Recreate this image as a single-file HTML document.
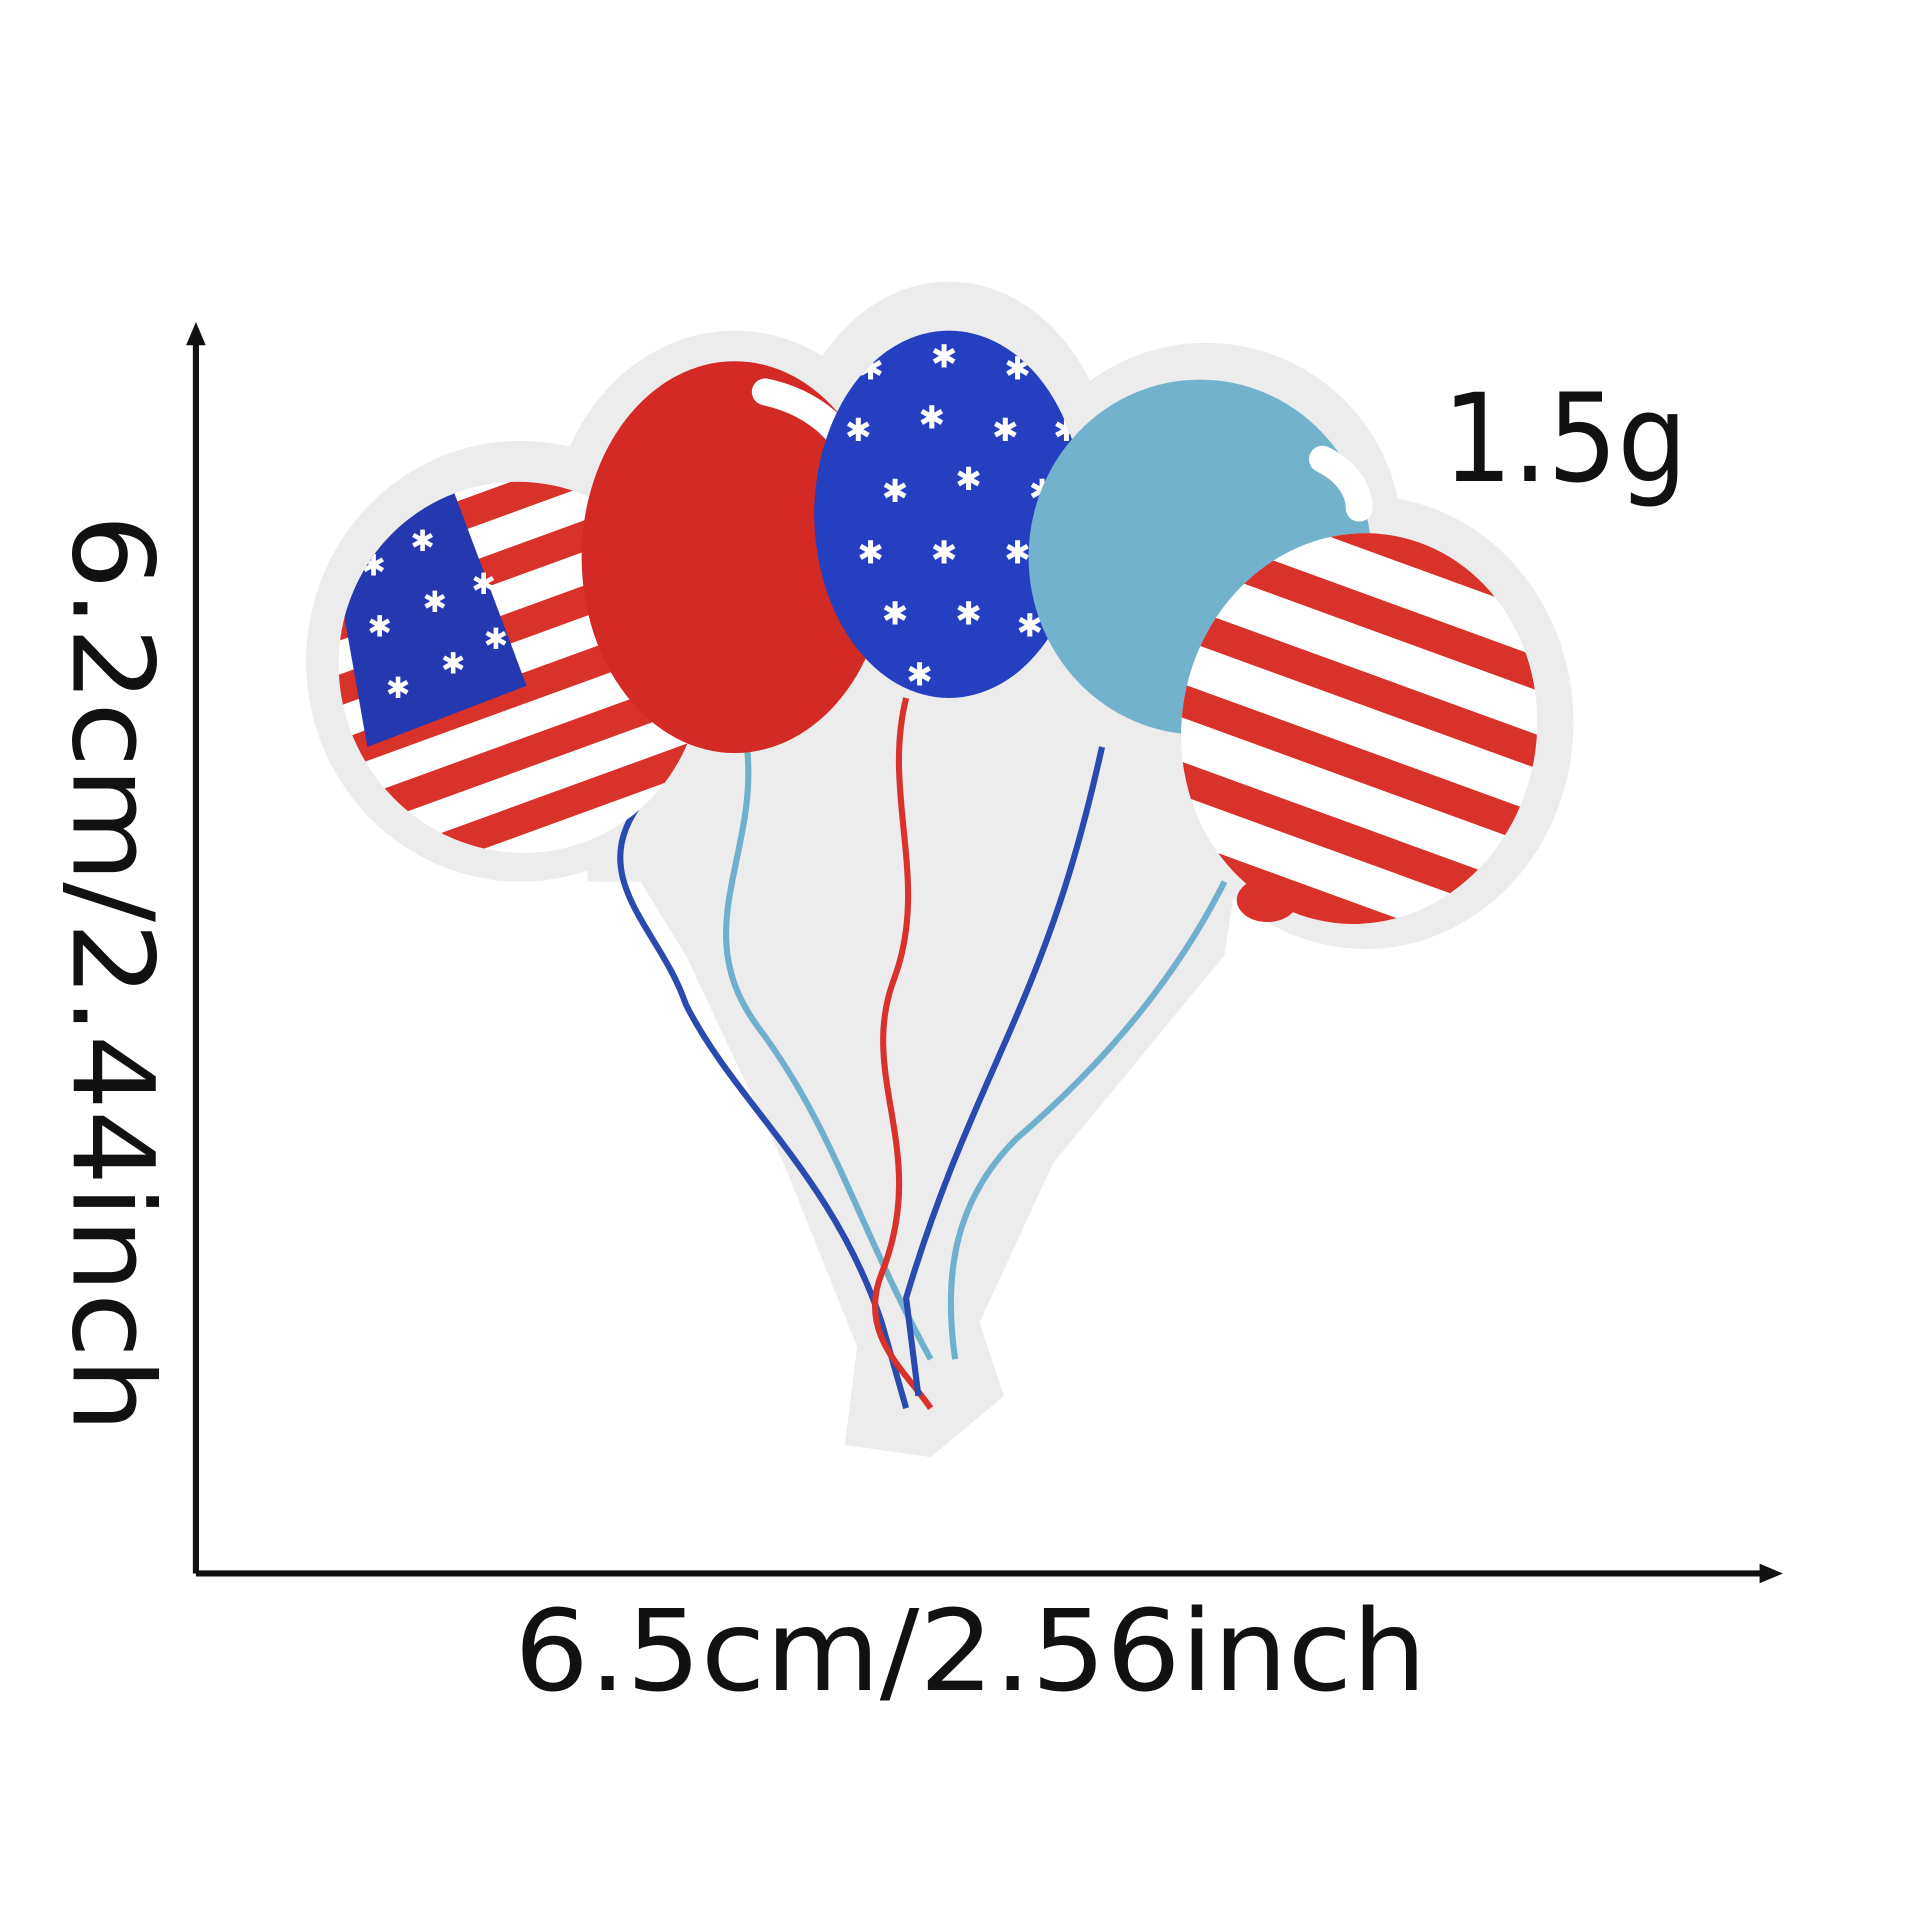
<!DOCTYPE html>
<html><head><meta charset="utf-8">
<style>
html,body{margin:0;padding:0;background:#fff;width:1920px;height:1920px;overflow:hidden}
svg{display:block}
.lbl{font-family:"DejaVu Sans","Liberation Sans",sans-serif;fill:#111}
</style></head>
<body>
<svg width="1920" height="1920" viewBox="0 0 1568 1568" xmlns="http://www.w3.org/2000/svg">
<defs>
  <clipPath id="c1"><ellipse cx="425" cy="545" rx="148" ry="152" transform="rotate(-20 425 545)"/></clipPath>
  <clipPath id="c5"><ellipse cx="1110" cy="595" rx="145" ry="160" transform="rotate(10 1110 595)"/></clipPath>
  <clipPath id="c3"><ellipse cx="775" cy="420" rx="110" ry="150"/></clipPath>
</defs>
<rect width="1568" height="1568" fill="#fff"/>

<g fill="#ececec">
  <ellipse cx="425" cy="540" rx="175" ry="180"/>
  <ellipse cx="600" cy="440" rx="150" ry="170"/>
  <ellipse cx="775" cy="400" rx="135" ry="170"/>
  <ellipse cx="985" cy="440" rx="160" ry="160"/>
  <ellipse cx="1115" cy="590" rx="170" ry="185"/>
  <rect x="480" y="520" width="540" height="200"/>
  <path d="M480 650 L1020 650 L1000 780 L860 950 L800 1080 L820 1140 L760 1190 L690 1180 L700 1100 L640 950 L560 780 Z"/>
</g>

<g fill="none" stroke-width="5">
  <path d="M520 660 C480 720 540 760 560 820 C600 900 680 960 720 1080 L740 1150" stroke="#2a4ab0"/>
  <path d="M610 610 C620 700 560 760 620 840 C680 920 700 1000 760 1110" stroke="#6fb0cc"/>
  <path d="M740 570 C720 650 760 720 730 800 C700 880 760 940 720 1040 C700 1090 740 1120 760 1150" stroke="#d8322a"/>
  <path d="M900 610 C880 700 860 760 830 830 C800 900 770 960 740 1060 L750 1140" stroke="#2a4ab0"/>
  <path d="M1000 720 C960 800 900 870 830 930 C780 980 770 1040 780 1110" stroke="#6fb0cc"/>
</g>

<g>
  <g clip-path="url(#c1)">
    <rect x="260" y="380" width="330" height="330" fill="#fff"/>
    <g fill="#d8322a">
      <rect x="260" y="400" width="330" height="24" transform="rotate(-20 425 545)"/>
      <rect x="260" y="450" width="330" height="24" transform="rotate(-20 425 545)"/>
      <rect x="260" y="500" width="330" height="24" transform="rotate(-20 425 545)"/>
      <rect x="260" y="550" width="330" height="24" transform="rotate(-20 425 545)"/>
      <rect x="260" y="600" width="330" height="24" transform="rotate(-20 425 545)"/>
      <rect x="260" y="650" width="330" height="24" transform="rotate(-20 425 545)"/>
    </g>
    <path d="M270 440 L370 400 L430 560 L300 610 Z" fill="#2438b0"/>
    <g style="fill:#fff" font-size="24" font-family="DejaVu Sans">
      <text x="295" y="470" style="fill:#fff">✱</text><text x="335" y="450" style="fill:#fff">✱</text>
      <text x="300" y="520" style="fill:#fff">✱</text><text x="345" y="500" style="fill:#fff">✱</text><text x="385" y="485" style="fill:#fff">✱</text>
      <text x="315" y="570" style="fill:#fff">✱</text><text x="360" y="550" style="fill:#fff">✱</text><text x="395" y="530" style="fill:#fff">✱</text>
    </g>
  </g>
</g>

<g>
  <ellipse cx="600" cy="455" rx="125" ry="160" fill="#d32a26"/>
  <path d="M625 320 C670 330 700 360 705 400" stroke="#fff" stroke-width="22" fill="none" stroke-linecap="round"/>
</g>

<g>
  <ellipse cx="775" cy="420" rx="110" ry="150" fill="#2440c0"/>
  <g clip-path="url(#c3)" font-size="26" font-family="DejaVu Sans">
    <text style="fill:#fff" x="700" y="310">✱</text><text style="fill:#fff" x="760" y="300">✱</text><text style="fill:#fff" x="820" y="310">✱</text>
    <text style="fill:#fff" x="690" y="360">✱</text><text style="fill:#fff" x="750" y="350">✱</text><text style="fill:#fff" x="810" y="360">✱</text><text style="fill:#fff" x="860" y="360">✱</text>
    <text style="fill:#fff" x="720" y="410">✱</text><text style="fill:#fff" x="780" y="400">✱</text><text style="fill:#fff" x="840" y="410">✱</text>
    <text style="fill:#fff" x="700" y="460">✱</text><text style="fill:#fff" x="760" y="460">✱</text><text style="fill:#fff" x="820" y="460">✱</text>
    <text style="fill:#fff" x="720" y="510">✱</text><text style="fill:#fff" x="780" y="510">✱</text><text style="fill:#fff" x="830" y="520">✱</text>
    <text style="fill:#fff" x="740" y="560">✱</text>
  </g>
</g>

<g>
  <ellipse cx="980" cy="455" rx="140" ry="145" fill="#72b2cc"/>
  <path d="M1080 375 C1100 385 1110 400 1110 415" stroke="#fff" stroke-width="22" fill="none" stroke-linecap="round"/>
</g>

<g>
  <g clip-path="url(#c5)">
    <rect x="950" y="420" width="330" height="360" fill="#fff"/>
    <g fill="#d8322a" transform="rotate(20 1110 595)">
      <rect x="900" y="430" width="420" height="26"/>
      <rect x="900" y="490" width="420" height="26"/>
      <rect x="900" y="550" width="420" height="26"/>
      <rect x="900" y="610" width="420" height="26"/>
      <rect x="900" y="670" width="420" height="26"/>
      <rect x="900" y="730" width="420" height="26"/>
    </g>
  </g>
  <ellipse cx="1035" cy="735" rx="25" ry="18" fill="#d8322a"/>
</g>

<g stroke="#111" stroke-width="5" fill="none">
  <line x1="160" y1="1285" x2="160" y2="275"/>
  <line x1="160" y1="1285" x2="1445" y2="1285"/>
</g>
<path d="M160 263 L152 282 L168 282 Z" fill="#111"/>
<path d="M1456 1285 L1437 1277 L1437 1293 Z" fill="#111"/>

<text class="lbl" x="420" y="1380" font-size="92" textLength="745" lengthAdjust="spacingAndGlyphs">6.5cm/2.56inch</text>
<text class="lbl" x="-375" y="0" font-size="92" textLength="750" lengthAdjust="spacingAndGlyphs" transform="translate(60 795) rotate(90)">6.2cm/2.44inch</text>
<text class="lbl" x="1178" y="393" font-size="100" textLength="200" lengthAdjust="spacingAndGlyphs">1.5g</text>
</svg>
</body></html>
